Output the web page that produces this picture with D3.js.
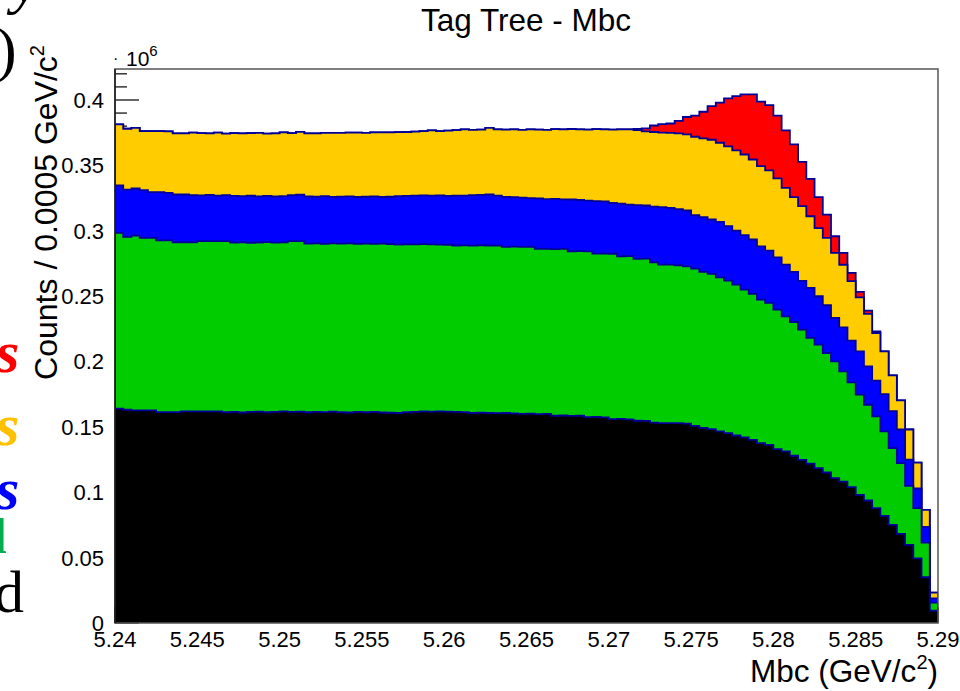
<!DOCTYPE html>
<html><head><meta charset="utf-8">
<script src="https://cdn.jsdelivr.net/npm/d3@7"></script>
<style>body{margin:0;background:#fff} svg{display:block}</style>
</head><body>
<svg id="c" width="960" height="691"></svg>
<script>
// ---- Data (counts per 0.0005 GeV/c^2 bin, 100 bins from 5.24 to 5.29) ----
const xMin = 5.24, xMax = 5.29, binWidth = 0.0005;
const xTickLabels = ["5.24","5.245","5.25","5.255","5.26","5.265","5.27","5.275","5.28","5.285","5.29"];
const yTickLabels = ["0","0.05","0.1","0.15","0.2","0.25","0.3","0.35","0.4"];

const seriesBlack = [
163900,163100,162600,162600,162600,161300,161300,161300,161800,161800,
161800,161800,161800,161200,161400,161000,161400,161600,161200,161500,
161800,161400,161600,161200,161500,161300,161600,161200,161000,161400,
161200,161500,161000,160800,160600,161200,161500,161800,161700,161800,
161600,161500,161300,160600,160800,160600,160500,160600,160300,160000,
160100,159800,159900,158500,158700,158400,158500,157500,157600,157300,
156000,156100,155800,154700,154600,153200,152900,152900,152900,152500,
150800,149300,148300,146500,145200,143400,141900,140100,137600,136300,
133000,131200,127900,124800,121900,118400,115100,110800,108200,103900,
98000,93700,87800,82000,75000,68100,59700,49500,35000,9400];

const seriesGreen = [
134500,132200,133700,131900,131900,131400,131400,129900,129400,129400,
130200,130200,130200,130800,129600,130200,129400,129400,130100,129400,
129300,130600,130400,129000,128900,128700,128700,128900,129400,128600,
129000,128400,129100,129000,128800,128300,128100,128000,127800,127600,
127700,127200,127500,128000,128100,128100,128100,127100,127500,127600,
127600,126300,126300,127500,127400,125900,125900,126700,124900,125300,
126400,124400,124800,123800,124000,122700,121200,121200,120700,120300,
120200,119200,118700,117900,116700,115400,113100,111600,109700,108500,
106700,103300,102300,99500,96100,94500,91400,89300,84200,80100,
76600,73200,70200,64500,58800,54200,45200,38300,26500,6200];

const seriesBlue = [
36200,36200,36000,36500,35000,36800,36300,36500,36500,36000,
35000,35500,34800,35300,35600,35300,36000,35300,35300,35300,
35400,35200,35600,36000,35600,36400,35600,36000,35900,35800,
35800,36300,35700,36200,37100,37100,37200,37200,37300,37600,
37400,38100,38100,38700,38600,39000,38200,38200,37800,37700,
37300,38700,38000,38300,37900,39600,39100,38800,40100,39800,
38900,40200,39400,41100,40700,42600,43900,43400,42900,42700,
40900,41900,41600,42400,41600,41200,41600,41600,40800,40000,
40000,39600,38300,37300,38300,37000,36500,33200,33700,31900,
33100,29400,27300,28500,28200,25700,20100,15200,12000,3300];

const seriesOrange = [
46700,46500,46400,45200,46700,46700,47000,46700,46700,47800,
47600,46900,48200,46900,48000,47900,47900,48600,47700,48200,
48700,47400,48000,48300,48400,48400,49000,48700,48700,49300,
48900,49000,49500,49200,48900,48900,49000,49200,49900,49200,
49900,50200,50600,49900,49900,51000,50700,51400,52000,51900,
52500,52600,53000,53400,53500,53900,54000,54400,55100,55200,
56000,56900,57500,57400,56700,57000,57000,57300,57900,58200,
60000,60200,61000,60500,61000,61400,61700,61200,61300,61300,
60300,58700,57200,57200,54800,52100,51500,49700,47900,45500,
41300,40100,36500,32700,27400,22300,23000,19700,13000,4300];

const seriesRed = [
0,0,0,0,0,0,0,0,0,0,
0,0,0,0,0,0,0,0,0,0,
0,0,0,0,0,0,0,0,0,0,
0,0,0,0,0,0,0,0,0,0,
0,0,0,0,0,0,0,0,0,0,
0,0,0,0,0,0,0,0,0,0,
0,0,0,800,2300,5000,6500,7200,9600,13300,
16100,20400,25700,30700,36700,41600,46000,49800,49300,49900,
48000,43900,40300,33900,28600,23700,17900,12800,9000,6400,
4200,2500,1200,0,0,0,0,0,0,0];

const layerKeys = ["black","green","blue","orange","red"];
const layerColors = {black:"#000000", green:"#00cc00", blue:"#0000ff", orange:"#ffcc00", red:"#ff0000"};
const lineColor = "#000099";

// ---- Build table ----
const rows = seriesBlack.map((v,i)=>({
  lo: xMin + i*binWidth, hi: xMin + (i+1)*binWidth,
  black: v, green: seriesGreen[i], blue: seriesBlue[i], orange: seriesOrange[i], red: seriesRed[i]
}));
const stacked = d3.stack().keys(layerKeys)(rows);

// ---- Layout ----
const L = 115, R = 938, T = 69, B = 623;
const yMax = 423700;
const x = d3.scaleLinear().domain([xMin, xMax]).range([L, R]);
const y = d3.scaleLinear().domain([0, yMax]).range([B, T]);
const svg = d3.select("#c");
const font = "'Liberation Sans', Arial, Helvetica, sans-serif";

svg.append("defs").append("clipPath").attr("id","plotclip")
  .append("rect").attr("x",L).attr("y",T).attr("width",R-L).attr("height",B-T);

// ---- Axis ticks (drawn inside frame, beneath the histograms) ----
const tickG = svg.append("g").attr("stroke","#000").attr("stroke-width",1.2);
const yMinor = d3.range(0, yMax, 10000);
yMinor.forEach(v=>{
  const major = (Math.round(v/10000) % 5) === 0;
  tickG.append("line").attr("x1",L).attr("x2",L + (major?24:12))
    .attr("y1",y(v)).attr("y2",y(v));
});
const xMinorTicks = d3.range(0, 51).map(i=>xMin + i*0.001);
xMinorTicks.forEach((v,i)=>{
  const major = i % 5 === 0;
  tickG.append("line").attr("x1",x(v)).attr("x2",x(v))
    .attr("y1",B).attr("y2",B - (major?16:8));
});

// ---- Histograms (THStack: draw cumulative from the top layer down) ----
const plotG = svg.append("g").attr("clip-path","url(#plotclip)");
function stepPoints(series){
  const pts = [[x(rows[0].lo), y(0)]];
  series.forEach((d,i)=>{
    pts.push([x(rows[i].lo), y(d[1])]);
    pts.push([x(rows[i].hi), y(d[1])]);
  });
  pts.push([x(rows[rows.length-1].hi), y(0)]);
  return pts;
}
const line = d3.line();
for (let k = stacked.length-1; k >= 0; k--){
  const s = stacked[k];
  const pts = stepPoints(s);
  plotG.append("path").attr("d", line(pts) + "Z")
    .attr("fill", layerColors[s.key]).attr("stroke","none");
  plotG.append("path").attr("d", line(pts))
    .attr("fill","none").attr("stroke", lineColor).attr("stroke-width",1.8)
    .attr("stroke-linejoin","miter");
}

// ---- Frame ----
svg.append("rect").attr("x",L).attr("y",T).attr("width",R-L).attr("height",B-T)
  .attr("fill","none").attr("stroke","#555").attr("stroke-width",1.5);
svg.append("line").attr("x1",L).attr("x2",L).attr("y1",T).attr("y2",B)
  .attr("stroke","#000").attr("stroke-width",1.2);

// ---- Tick labels ----
const yLabG = svg.append("g").attr("font-family",font).attr("font-size",22).attr("fill","#000");
yTickLabels.forEach(t=>{
  yLabG.append("text").attr("x",104).attr("y",y(+t*1e6)+8)
    .attr("text-anchor","end").text(t);
});
const xLabG = svg.append("g").attr("font-family",font).attr("font-size",22).attr("fill","#000");
xTickLabels.forEach(t=>{
  xLabG.append("text").attr("x",x(+t)).attr("y",647)
    .attr("text-anchor","middle").text(t);
});

// exponent label
svg.append("text").attr("x",113).attr("y",64).attr("font-family",font).attr("font-size",16).text("·");
const ex = svg.append("text").attr("x",126).attr("y",66).attr("font-family",font).attr("font-size",21);
ex.append("tspan").text("10");
ex.append("tspan").attr("font-size",15).attr("dy",-10).text("6");

// ---- Titles ----
svg.append("text").attr("x",526).attr("y",31).attr("text-anchor","middle")
  .attr("font-family",font).attr("font-size",31.5).text("Tag Tree - Mbc");

const xt = svg.append("text").attr("x",938).attr("y",682).attr("text-anchor","end")
  .attr("font-family",font).attr("font-size",31.5);
xt.append("tspan").text("Mbc (GeV/c");
xt.append("tspan").attr("font-size",20).attr("dy",-13).text("2");
xt.append("tspan").attr("dy",13).text(")");

const yt = svg.append("text").attr("transform","translate(57,45) rotate(-90)")
  .attr("text-anchor","end").attr("font-family",font).attr("font-size",32);
yt.append("tspan").text("Counts / 0.0005 GeV/c");
yt.append("tspan").attr("font-size",20).attr("dy",-13).text("2");

// ---- Cropped slide text at the left edge ----
const serif = "'Liberation Serif', 'DejaVu Serif', serif";
const side = [
  {t:"y", x:12, y:2, c:"#000", s:62, st:"italic", w:"normal"},
  {t:")", x:-4, y:70, c:"#000", s:62, st:"normal", w:"normal"},
  {t:"s", x:-4, y:372, c:"#ff0000", s:60, st:"italic", w:"bold"},
  {t:"s", x:-4, y:445, c:"#ffc000", s:60, st:"italic", w:"bold"},
  {t:"s", x:-4, y:509, c:"#0000ff", s:60, st:"italic", w:"bold"},
  {t:"l", x:-7, y:553, c:"#00b050", s:50, st:"normal", w:"bold"},
  {t:"d", x:-6, y:612, c:"#000", s:60, st:"normal", w:"normal"}
];
side.forEach(d=>{
  svg.append("text").attr("x",d.x).attr("y",d.y).attr("fill",d.c)
    .attr("font-family",serif).attr("font-size",d.s).attr("font-style",d.st)
    .attr("font-weight",d.w).text(d.t);
});
</script>
</body></html>
